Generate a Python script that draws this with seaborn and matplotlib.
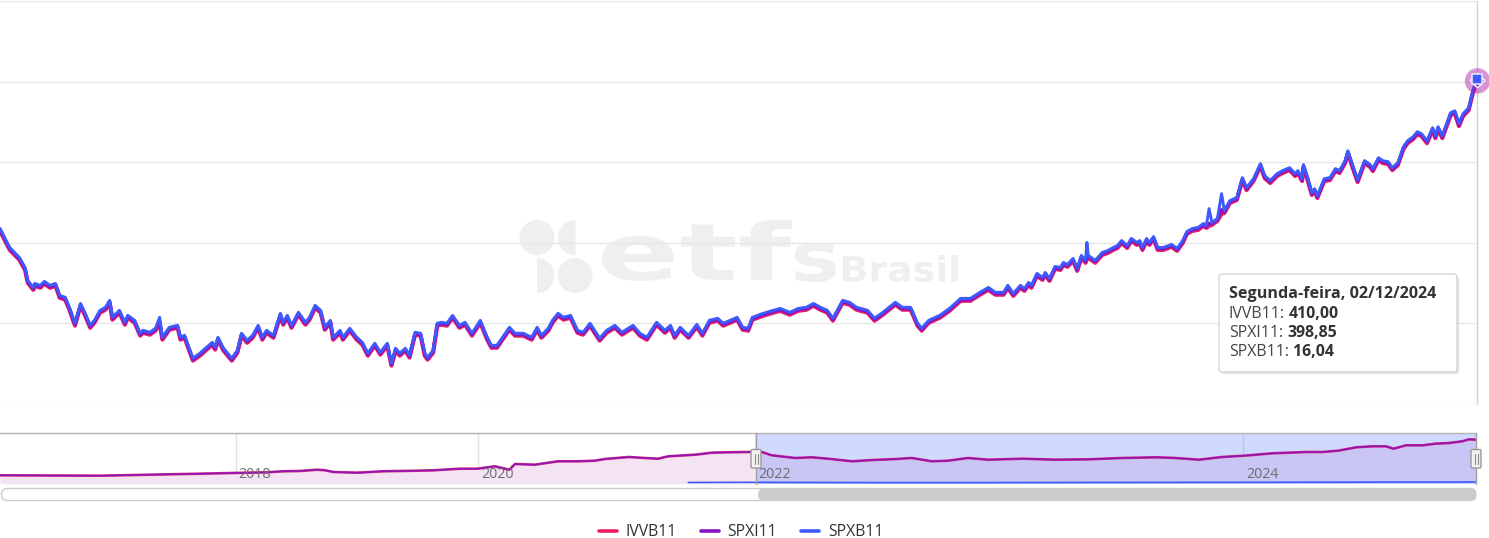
import numpy as np
import pandas as pd
import matplotlib
matplotlib.use('Agg')
import matplotlib.pyplot as plt
import seaborn as sns
import matplotlib.dates as mdates
from matplotlib.patches import FancyBboxPatch, Circle, Wedge, PathPatch
from matplotlib.textpath import TextPath
from matplotlib.font_manager import FontProperties
from matplotlib.transforms import Affine2D

# ---------------- data ----------------
series_names = ['IVVB11', 'SPXI11', 'SPXB11']
series_colors = ['#e91e63', '#8a12c2', '#3d5afe']
start_date = '2022-01-03'

day_offsets = [
    0, 7, 14, 18, 20, 24, 25, 29, 32, 36,
    40, 43, 47, 50, 54, 58, 61, 65, 68, 72,
    76, 79, 81, 86, 90, 92, 97, 101, 103, 108,
    112, 115, 117, 122, 128, 130, 133, 135, 139, 144,
    148, 153, 155, 157, 161, 167, 171, 174, 178, 182,
    186, 189, 192, 197, 202, 204, 207, 210, 215, 220,
    223, 227, 231, 234, 238, 240, 245, 247, 252, 257,
    261, 265, 270, 274, 279, 282, 285, 288, 292, 295,
    299, 303, 306, 308, 312, 315, 318, 322, 326, 331,
    335, 340, 346, 351, 354, 358, 362, 367, 371, 377,
    383, 387, 390, 395, 398, 402, 406, 411, 416, 420,
    425, 432, 437, 443, 448, 456, 461, 466, 473, 479,
    483, 486, 490, 496, 502, 506, 511, 517, 521, 526,
    531, 535, 539, 542, 550, 557, 562, 569, 575, 581,
    586, 591, 596, 600, 607, 612, 617, 625, 630, 636,
    645, 650, 656, 661, 664, 669, 677, 684, 692, 699,
    706, 712, 717, 723, 726, 730, 735, 738, 741, 743,
    747, 751, 753, 756, 760, 764, 766, 769, 773, 776,
    779, 782, 783, 784, 789, 794, 798, 802, 805, 808,
    812, 815, 819, 821, 823, 826, 828, 831, 834, 838,
    844, 848, 852, 855, 859, 863, 867, 869, 871, 873,
    877, 880, 882, 886, 891, 895, 898, 903, 908, 911,
    915, 920, 924, 929, 933, 935, 938, 939, 942, 945,
    947, 949, 954, 958, 962, 965, 969, 971, 975, 978,
    983, 987, 989, 993, 996, 1000, 1003, 1007, 1011, 1014,
    1018, 1021, 1024, 1028, 1032, 1034, 1036, 1039, 1045, 1048,
    1051, 1054, 1058, 1061, 1064]

ivvb11 = [
    307.4, 295.6, 289.4, 283.2, 275.2, 270.8, 273.3, 272.1, 274.6, 272.1,
    273.3, 265.9, 264.7, 258.5, 248.6, 260.9, 255.4, 247.3, 250.4, 256.6,
    258.5, 262.8, 252.3, 256.6, 249.2, 253.5, 250.4, 242.4, 244.2, 243.0,
    245.5, 250.0, 239.9, 246.1, 247.3, 239.9, 241.1, 236.2, 226.9, 230.0,
    233.1, 236.8, 233.7, 239.9, 233.1, 226.9, 231.8, 242.4, 238.0, 241.1,
    247.3, 239.9, 244.2, 241.1, 254.8, 249.2, 253.5, 247.3, 255.4, 249.2,
    252.3, 259.7, 256.6, 246.1, 250.4, 239.9, 244.2, 239.9, 245.5, 239.9,
    236.8, 230.0, 236.2, 230.6, 236.2, 223.8, 233.1, 230.0, 233.1, 228.8,
    243.0, 242.4, 230.0, 227.5, 231.8, 248.6, 249.2, 248.6, 253.5, 247.3,
    249.2, 242.4, 250.4, 239.9, 234.9, 234.9, 239.9, 246.1, 242.4, 242.4,
    239.9, 246.1, 241.1, 245.5, 250.4, 254.8, 252.3, 253.5, 244.2, 243.0,
    248.6, 239.3, 244.2, 247.3, 243.0, 247.3, 242.4, 239.9, 249.2, 244.2,
    247.3, 241.1, 246.1, 241.1, 247.9, 242.4, 250.4, 251.7, 248.6, 250.4,
    252.3, 246.1, 245.5, 252.3, 254.8, 256.6, 257.8, 255.4, 257.8, 258.5,
    260.9, 258.5, 256.6, 251.7, 262.8, 261.6, 258.5, 256.6, 251.7, 255.4,
    261.6, 258.5, 258.5, 248.6, 245.5, 250.4, 253.5, 257.8, 264.0, 264.0,
    267.8, 270.8, 267.8, 267.8, 272.1, 267.1, 272.1, 270.2, 273.9, 272.1,
    279.5, 277.0, 280.1, 276.4, 283.8, 283.2, 286.3, 285.1, 288.8, 282.6,
    290.7, 287.6, 290.0, 290.7, 287.6, 292.5, 293.7, 295.6, 296.8, 299.9,
    296.8, 301.2, 298.7, 299.9, 295.6, 301.2, 298.7, 302.4, 295.6, 295.6,
    297.5, 295.0, 299.9, 305.5, 307.4, 308.0, 310.5, 309.2, 310.5, 311.1,
    313.6, 318.0, 318.5, 324.7, 326.6, 338.9, 332.7, 338.3, 347.6, 340.2,
    337.1, 341.4, 343.3, 345.1, 341.4, 343.3, 338.3, 347.0, 338.9, 329.7,
    332.1, 327.8, 338.3, 338.9, 344.5, 343.3, 349.5, 355.6, 345.1, 337.7,
    349.5, 347.0, 344.5, 351.3, 349.5, 348.8, 345.1, 348.2, 358.1, 361.8,
    364.3, 367.4, 366.2, 361.8, 369.9, 364.9, 370.5, 364.9, 379.2, 380.4,
    372.4, 378.6, 382.3, 392.8, 400.2]

spxi11 = [
    308.1, 296.3, 290.1, 283.9, 275.9, 271.5, 274.0, 272.8, 275.3, 272.8,
    274.0, 266.6, 265.4, 259.2, 249.3, 261.6, 256.1, 248.0, 251.1, 257.3,
    259.2, 263.5, 253.0, 257.3, 249.9, 254.2, 251.1, 243.1, 244.9, 243.7,
    246.2, 251.0, 240.6, 246.8, 248.0, 240.6, 241.8, 236.9, 227.6, 230.7,
    233.8, 237.5, 234.4, 240.6, 233.8, 227.6, 232.5, 243.1, 238.7, 241.8,
    248.0, 240.6, 244.9, 241.8, 255.5, 249.9, 254.2, 248.0, 256.1, 249.9,
    253.0, 260.4, 257.3, 246.8, 251.1, 240.6, 244.9, 240.6, 246.2, 240.6,
    237.5, 230.7, 236.9, 231.3, 236.9, 224.5, 233.8, 230.7, 233.8, 229.5,
    243.7, 243.1, 230.7, 228.2, 232.5, 249.3, 249.9, 249.3, 254.2, 248.0,
    249.9, 243.1, 251.1, 240.6, 235.6, 235.6, 240.6, 246.8, 243.1, 243.1,
    240.6, 246.8, 241.8, 246.2, 251.1, 255.5, 253.0, 254.2, 244.9, 243.7,
    249.3, 240.0, 244.9, 248.0, 243.7, 248.0, 243.1, 240.6, 249.9, 244.9,
    248.0, 241.8, 246.8, 241.8, 248.6, 243.1, 251.1, 252.4, 249.3, 251.1,
    253.0, 246.8, 246.2, 253.0, 255.5, 257.3, 258.5, 256.1, 258.5, 259.2,
    261.6, 259.2, 257.3, 252.4, 263.5, 262.3, 259.2, 257.3, 252.4, 256.1,
    262.3, 259.2, 259.2, 249.3, 246.2, 251.1, 254.2, 258.5, 264.7, 264.7,
    268.5, 271.5, 268.5, 268.5, 272.8, 267.8, 272.8, 270.9, 274.6, 272.8,
    280.2, 277.7, 280.8, 277.1, 284.5, 283.9, 287.0, 285.8, 289.5, 283.3,
    291.4, 288.3, 292.0, 291.4, 288.3, 293.2, 294.4, 296.3, 297.5, 300.6,
    297.5, 301.9, 299.4, 300.6, 296.3, 301.9, 299.4, 303.1, 296.3, 296.3,
    298.2, 295.7, 300.6, 306.2, 308.1, 308.7, 311.2, 309.9, 312.0, 311.8,
    314.3, 320.5, 319.2, 325.4, 327.3, 339.6, 333.4, 339.0, 348.3, 340.9,
    337.8, 342.1, 344.0, 345.8, 342.1, 344.0, 339.0, 347.7, 339.6, 330.4,
    332.8, 328.5, 339.0, 339.6, 345.2, 344.0, 350.2, 356.3, 345.8, 338.4,
    350.2, 347.7, 345.2, 352.0, 350.2, 349.5, 345.8, 348.9, 358.8, 362.5,
    365.0, 368.1, 366.9, 362.5, 370.6, 365.6, 371.2, 365.6, 379.9, 381.1,
    373.1, 379.3, 383.0, 393.5, 400.9]

spxb11 = [
    308.9, 297.1, 290.9, 284.7, 276.7, 272.3, 274.8, 273.6, 276.1, 273.6,
    274.8, 267.4, 266.2, 260.0, 250.1, 262.4, 256.9, 248.8, 251.9, 258.1,
    260.0, 264.3, 253.8, 258.1, 250.7, 255.0, 251.9, 243.9, 245.7, 244.5,
    247.0, 253.8, 241.4, 247.6, 248.8, 241.4, 242.6, 237.7, 228.4, 231.5,
    234.6, 238.3, 235.2, 241.4, 234.6, 228.4, 233.3, 243.9, 239.5, 242.6,
    248.8, 241.4, 245.7, 242.6, 256.3, 250.7, 255.0, 248.8, 256.9, 250.7,
    253.8, 261.2, 258.1, 247.6, 251.9, 241.4, 245.7, 241.4, 247.0, 241.4,
    238.3, 231.5, 237.7, 232.1, 237.7, 225.3, 234.6, 231.5, 234.6, 230.3,
    244.5, 243.9, 231.5, 229.0, 233.3, 250.1, 250.7, 250.1, 255.0, 248.8,
    250.7, 243.9, 251.9, 241.4, 236.4, 236.4, 241.4, 247.6, 243.9, 243.9,
    241.4, 247.6, 242.6, 247.0, 251.9, 256.3, 253.8, 255.0, 245.7, 244.5,
    250.1, 240.8, 245.7, 248.8, 244.5, 248.8, 243.9, 241.4, 250.7, 245.7,
    248.8, 242.6, 247.6, 242.6, 249.4, 243.9, 251.9, 253.2, 250.1, 251.9,
    253.8, 247.6, 247.0, 253.8, 256.3, 258.1, 259.3, 256.9, 259.3, 260.0,
    262.4, 260.0, 258.1, 253.2, 264.3, 263.1, 260.0, 258.1, 253.2, 256.9,
    263.1, 260.0, 260.0, 250.1, 247.0, 251.9, 255.0, 259.3, 265.5, 265.5,
    269.3, 272.3, 269.3, 269.3, 273.6, 268.6, 273.6, 271.7, 275.4, 273.6,
    281.0, 278.5, 281.6, 277.9, 285.3, 284.7, 287.8, 286.6, 290.3, 284.1,
    292.2, 289.1, 300.2, 292.2, 289.1, 294.0, 295.2, 297.1, 298.3, 301.4,
    298.3, 302.7, 300.2, 301.4, 297.1, 302.7, 300.2, 303.9, 297.1, 297.1,
    299.0, 296.5, 301.4, 307.0, 308.9, 309.5, 312.0, 310.7, 321.2, 312.6,
    315.1, 330.5, 320.0, 326.2, 328.1, 340.4, 334.2, 339.8, 349.1, 341.7,
    338.6, 342.9, 344.8, 346.6, 342.9, 344.8, 339.8, 348.5, 340.4, 331.2,
    333.6, 329.3, 339.8, 340.4, 346.0, 344.8, 351.0, 357.1, 346.6, 339.2,
    351.0, 348.5, 346.0, 352.8, 351.0, 350.3, 346.6, 349.7, 359.6, 363.3,
    365.8, 368.9, 367.7, 363.3, 371.4, 366.4, 372.0, 366.4, 380.7, 381.9,
    373.9, 380.1, 383.8, 394.3, 401.7]

# navigator (full history)
nav_dates = [
    '2016-01-04', '2016-11-08', '2017-04-12', '2017-09-13', '2017-12-22',
    '2018-04-05', '2018-05-23', '2018-07-13', '2018-09-03', '2018-09-27', '2018-10-22',
    '2019-01-02', '2019-03-20', '2019-07-01', '2019-08-19', '2019-11-07', '2019-12-30',
    '2020-01-31', '2020-02-14', '2020-03-23', '2020-04-07', '2020-05-29', '2020-07-30',
    '2020-09-21', '2020-11-04', '2020-12-01', '2021-02-01', '2021-03-16', '2021-04-20',
    '2021-05-17', '2021-07-27', '2021-09-09', '2021-10-22', '2021-12-14',
    '2022-01-03', '2022-01-12', '2022-01-27', '2022-03-03', '2022-03-28', '2022-04-21',
    '2022-05-27', '2022-06-27', '2022-08-01', '2022-08-24', '2022-09-23', '2022-10-17',
    '2022-11-16', '2022-12-16', '2023-02-06', '2023-03-27', '2023-05-16', '2023-07-04',
    '2023-08-24', '2023-09-22', '2023-10-27', '2023-11-30',
    '2024-01-02', '2024-02-12', '2024-04-01', '2024-04-24', '2024-05-17', '2024-06-12',
    '2024-07-05', '2024-07-25', '2024-08-05', '2024-08-23', '2024-09-16', '2024-10-04',
    '2024-10-24', '2024-11-12', '2024-11-22', '2024-12-02']
nav_spxi11 = [
    76.9, 73.2, 82.4, 91.5, 97.9,
    104.3, 113.5, 116.2, 128.1, 122.6, 107.1,
    100.7, 113.5, 119.0, 122.6, 137.3, 137.3,
    152.8, 159.2, 128.1, 180.3, 173.9, 205.0,
    205.0, 210.5, 226.0, 244.3, 235.2, 228.8,
    250.7, 265.4, 283.7, 287.3, 290.1,
    290.1, 290.1, 259.9, 235.2, 241.6, 228.8,
    205.0, 216.9, 226.0, 235.2, 205.0, 210.5,
    235.2, 219.6, 228.8, 219.6, 223.3, 235.2,
    241.6, 235.2, 219.6, 244.3,
    256.2, 278.2, 290.1, 290.1, 302.0, 333.1,
    342.2, 342.2, 320.3, 351.4, 351.4, 366.0,
    372.4, 388.0, 406.3, 402.6]
nav_spxb11_dates = ['2021-07-09', '2021-10-01', '2022-01-03', '2022-06-16', '2022-10-14',
                    '2023-03-15', '2023-08-01', '2024-01-02', '2024-07-10', '2024-12-02']
nav_spxb11 = [11.0, 11.8, 12.5, 10.2, 9.6, 10.8, 11.9, 12.6, 14.6, 16.0]

# navigator ordinal scale break points and year labels
nav_scale_dates = ['2016-01-04', '2018-01-01', '2020-01-01', '2022-01-03', '2024-01-01', '2024-12-02']
nav_scale_pos = [0.0, 235.7, 478.3, 755.7, 1243.3, 1476.0]
year_tick_dates = ['2018-01-01', '2020-01-01', '2022-01-01', '2024-01-01']
year_labels = ['2018', '2020', '2022', '2024']
selection = ('2022-01-03', '2024-12-02')

tooltip_title = 'Segunda-feira, 02/12/2024'
tooltip_values = ['410,00', '398,85', '16,04']

# ---------------- style ----------------
sns.set_style('white')
plt.rcParams['font.family'] = ['Open Sans', 'DejaVu Sans']

W, H = 1489, 538
fig = plt.figure(figsize=(W / 100, H / 100), dpi=100)
fig.patch.set_facecolor('white')


def frac(x0, y0, x1, y1):
    return [x0 / W, 1 - y1 / H, (x1 - x0) / W, (y1 - y0) / H]


# background (watermark)
bg = fig.add_axes([0, 0, 1, 1], zorder=0)
bg.set_xlim(0, W)
bg.set_ylim(H, 0)
bg.axis('off')
wm = '#efefef'
bg.add_patch(Circle((537, 237.5), 17.5, fc=wm, ec='none'))
bg.add_patch(Wedge((575.5, 237.5), 17.5, 90, 270, fc=wm, ec='none'))
bg.add_patch(Wedge((537, 275.5), 17.5, -90, 90, fc=wm, ec='none'))
bg.add_patch(Circle((575, 275.5), 17.5, fc=wm, ec='none'))


def fit_text(ax, s, x0, x1, ytop, ybot, color):
    tp = TextPath((0, 0), s, size=100,
                  prop=FontProperties(family='DejaVu Sans', weight='bold'))
    ext = tp.get_extents()
    sx = (x1 - x0) / ext.width
    sy = (ybot - ytop) / ext.height
    tr = Affine2D().translate(-ext.x0, -ext.y0).scale(sx, -sy).translate(x0, ybot) + ax.transData
    ax.add_patch(PathPatch(tp, transform=tr, fc=color, ec='none'))


fit_text(bg, 'etf', 602, 792, 220, 281, wm)
fit_text(bg, 's', 795, 836, 243, 282, wm)
fit_text(bg, 'Brasil', 843, 958, 255, 282, wm)

# ---------------- main chart ----------------
ax = fig.add_axes(frac(0, 1, 1477, 404), zorder=1)
ax.patch.set_alpha(0)
dates = pd.Timestamp(start_date) + pd.to_timedelta(day_offsets, unit='D')
df = pd.concat([pd.DataFrame({'date': dates, 'value': vals, 'ticker': name})
                for name, vals in zip(series_names, [ivvb11, spxi11, spxb11])],
               ignore_index=True)
sns.lineplot(data=df, x='date', y='value', hue='ticker', hue_order=series_names,
             palette=series_colors, size='ticker', size_order=series_names,
             sizes=dict(zip(series_names, [3.0, 2.5, 2.1])),
             estimator=None, sort=False, ax=ax)
ax.set_xlim(dates[0], dates[-1])
ax.set_ylim(200, 450)
ax.set_yticks([200, 250, 300, 350, 400, 450])
ax.yaxis.grid(True, color='#e6e6e6', linewidth=1)
ax.xaxis.grid(False)
ax.tick_params(labelleft=False, labelbottom=False, length=0)
ax.set_xlabel('')
ax.set_ylabel('')
for sp in ax.spines.values():
    sp.set_visible(False)
ax.axvline(dates[-1], color='#d0d0d0', linewidth=1, zorder=0.5, clip_on=False)

# hover halos and markers at the last point
last = dates[-1]
ax.scatter([last], [ivvb11[-1]], s=330, color=series_colors[0], alpha=0.22, lw=0, clip_on=False, zorder=5)
ax.scatter([last], [spxi11[-1]], s=330, color=series_colors[1], alpha=0.3, lw=0, clip_on=False, zorder=5)
ax.scatter([last], [ivvb11[-1]], s=45, marker='o', color=series_colors[0], edgecolor='white', lw=1, clip_on=False, zorder=6)
ax.scatter([last], [spxi11[-1]], s=55, marker='D', color=series_colors[1], edgecolor='white', lw=1, clip_on=False, zorder=6)
ax.scatter([last], [spxb11[-1]], s=58, marker='s', color=series_colors[2], edgecolor='#e6e0ff', lw=1.2, clip_on=False, zorder=7)

sns.move_legend(ax, 'center', bbox_to_anchor=(741 / W, 1 - 532 / H),
                bbox_transform=fig.transFigure, ncol=3, frameon=False, title=None,
                fontsize=11.3, handlelength=1.15, handletextpad=0.55, columnspacing=1.55,
                labelcolor='#333333')
for h in ax.get_legend().legend_handles:
    h.set_linewidth(2.6)

# ---------------- navigator ----------------
nav = fig.add_axes(frac(0, 433, 1476, 483.7), zorder=1)
nav.patch.set_alpha(0)
bp_x = mdates.date2num(pd.to_datetime(nav_scale_dates))
bp_p = np.array(nav_scale_pos)


def _interp_ext(x, xs, ys):
    x = np.asarray(x, dtype=float)
    y = np.interp(x, xs, ys)
    lo_s = (ys[1] - ys[0]) / (xs[1] - xs[0])
    hi_s = (ys[-1] - ys[-2]) / (xs[-1] - xs[-2])
    y = np.where(x < xs[0], ys[0] + (x - xs[0]) * lo_s, y)
    y = np.where(x > xs[-1], ys[-1] + (x - xs[-1]) * hi_s, y)
    return y


fwd = lambda x: _interp_ext(x, bp_x, bp_p)
inv = lambda p: _interp_ext(p, bp_p, bp_x)

nav_df = pd.DataFrame({'date': pd.to_datetime(nav_dates), 'value': nav_spxi11})
nav_b = pd.DataFrame({'date': pd.to_datetime(nav_spxb11_dates), 'value': nav_spxb11})
nav.fill_between(nav_df['date'], 0, nav_df['value'], color='#f4e3f3', lw=0, zorder=1)
nav.axvspan(pd.Timestamp(selection[0]), pd.Timestamp(selection[1]), color='#6685ff', alpha=0.3, lw=0, zorder=2)
sns.lineplot(data=nav_df, x='date', y='value', color='#d0307a', linewidth=1.9, ax=nav, zorder=3)
sns.lineplot(data=nav_df, x='date', y='value', color='#9012b8', linewidth=1.1, ax=nav, zorder=4)
sns.lineplot(data=nav_b, x='date', y='value', color=series_colors[2], linewidth=1.2, ax=nav, zorder=4)
nav.set_xscale('function', functions=(fwd, inv))
nav.set_xlim(pd.Timestamp(nav_scale_dates[0]), pd.Timestamp(nav_scale_dates[-1]))
nav.set_ylim(0, 464)
nav.set_xticks([])
nav.set_yticks([])
nav.set_xlabel('')
nav.set_ylabel('')
for sp in nav.spines.values():
    sp.set_visible(False)
nav.spines['top'].set_visible(True)
nav.spines['top'].set_color('#b3b3b3')
nav.spines['top'].set_linewidth(1)
for d, lbl in zip(year_tick_dates, year_labels):
    nav.axvline(pd.Timestamp(d), color='#e3e3e3', linewidth=1, zorder=0.5)
    nav.annotate(lbl, xy=(pd.Timestamp(d), 0.18), xycoords=('data', 'axes fraction'),
                 xytext=(3, 0), textcoords='offset pixels', ha='left', va='center',
                 fontsize=10.3, color='#6e6e6e', zorder=6)
for d in selection:
    nav.axvline(pd.Timestamp(d), color='#a0a0a0', linewidth=1, zorder=5, clip_on=False)

# ---------------- overlay (handles, scrollbar, tooltip) ----------------
ov = fig.add_axes([0, 0, 1, 1], zorder=10)
ov.set_xlim(0, W)
ov.set_ylim(H, 0)
ov.axis('off')

for xc in (756, 1476):
    ov.add_patch(FancyBboxPatch((xc - 5, 449.5), 10, 18.5,
                                boxstyle='round,pad=0,rounding_size=1.5',
                                fc='#f2f2f2', ec='#999999', lw=1))
    for dx in (-1.5, 1.5):
        ov.plot([xc + dx, xc + dx], [454, 464], color='#888888', lw=0.8)

ov.add_patch(FancyBboxPatch((1.5, 488.5), 1474.5, 12, boxstyle='round,pad=0,rounding_size=6',
                            fc='white', ec='#cccccc', lw=1))
ov.add_patch(FancyBboxPatch((758, 488.5), 718, 12, boxstyle='round,pad=0,rounding_size=6',
                            fc='#cccccc', ec='none'))

# tooltip
bx, by, bw, bh = 1219, 274, 238, 98
for off, a in ((3, 0.03), (2, 0.05), (1, 0.08)):
    ov.add_patch(FancyBboxPatch((bx + off, by + off), bw, bh, boxstyle='round,pad=0,rounding_size=3',
                                fc='black', ec='none', alpha=a))
ov.add_patch(FancyBboxPatch((bx, by), bw, bh, boxstyle='round,pad=0,rounding_size=3',
                            fc='white', ec='#d6d6d6', lw=1))
ov.text(1229, 294.5, tooltip_title, fontsize=11.6, fontweight='bold', color='#333333',
        ha='left', va='center')
for i, (name, val) in enumerate(zip(series_names, tooltip_values)):
    t = ov.text(1229, 314 + i * 19, f'{name}:', fontsize=11.4, color='#444444',
                ha='left', va='center')
    ov.annotate(val, xy=(1, 0.5), xycoords=t, xytext=(4, 0), textcoords='offset pixels',
                ha='left', va='center', fontsize=11.4, fontweight='bold', color='#333333')

fig.savefig('out.png', dpi=100, facecolor='white')
